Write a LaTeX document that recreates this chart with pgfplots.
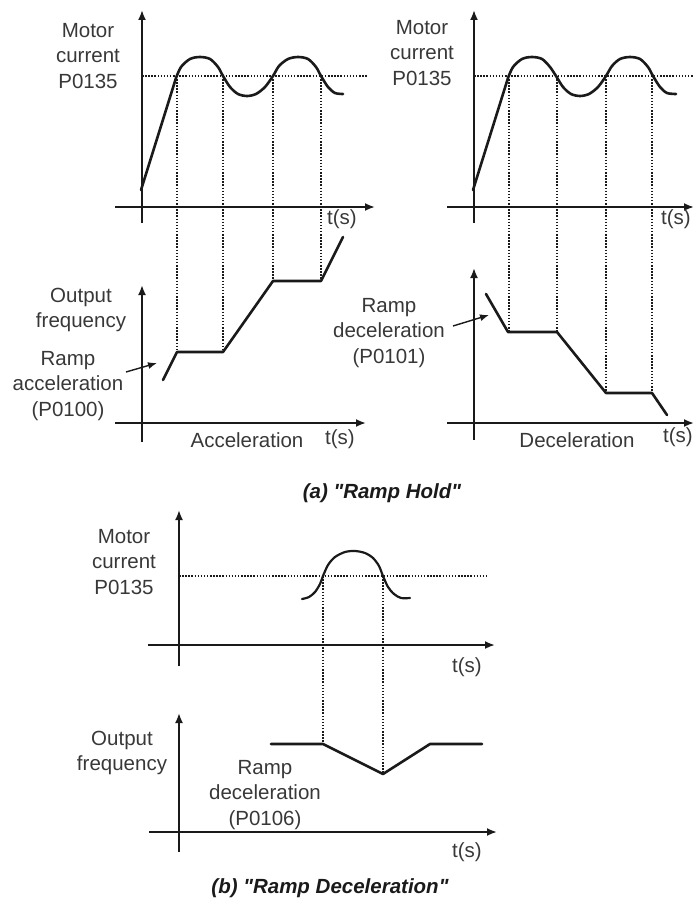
\documentclass[border=0pt]{standalone}
\usepackage{pgfplots}
\pgfplotsset{compat=1.18}
\usepackage{fontspec}
\setmainfont{Liberation Sans}
\usetikzlibrary{arrows.meta}
\definecolor{txt}{HTML}{383838}
\definecolor{ink}{HTML}{1A1A1A}
\tikzset{
  axline/.style={line width=1.9bp, -{Latex[length=10bp,width=8bp]}},
  noarrow/.style={line width=1.9bp},
  curve/.style={line width=2.6bp, line join=round, line cap=round},
  dots/.style={line width=1.6bp, dash pattern=on 1.5bp off 1.6bp},
  lbl/.style={text=txt, font=\fontsize{20.5bp}{25.5bp}\selectfont, align=center},
  ttl/.style={text=ink, font=\fontsize{20.5bp}{25bp}\selectfont\bfseries\itshape},
}
\begin{document}
\begin{tikzpicture}
\begin{axis}[
  width=694bp, height=901bp, scale only axis,
  xmin=0, xmax=694, ymin=0, ymax=901, y dir=reverse,
  hide axis, clip=false,
  every axis plot/.append style={ink},
]
% ---------- (a) top-left: motor current, acceleration
\addplot[axline] coordinates {(142,223) (142,10)};
\addplot[axline] coordinates {(115,207) (375,207)};
\addplot[dots] coordinates {(142,76) (367,76)};
\addplot[curve] coordinates {(141,190) (176,78)};
\addplot[curve, smooth] coordinates {
  (176,78) (181,67) (190,59) (200,57) (210,59) (218,67) (223,76) (230,87)
  (238,94) (247,96) (256,94) (265,87) (273,76) (279,66) (288,59) (298,57)
  (308,59) (316,67) (321,76) (328,87) (335,93) (343,94)};
% lower-left: output frequency
\addplot[axline] coordinates {(142,442) (142,285)};
\addplot[axline] coordinates {(115,423) (366,423)};
\addplot[curve] coordinates {(163,380) (177,352) (223,352) (273,281) (321,281) (343,237)};
\addplot[dots] coordinates {(177,76) (177,352)};
\addplot[dots] coordinates {(223,76) (223,352)};
\addplot[dots] coordinates {(273,76) (273,281)};
\addplot[dots] coordinates {(321,76) (321,281)};
\addplot[line width=1.4bp, -{Latex[length=9bp,width=7bp]}] coordinates {(126,372) (157,363)};

% ---------- top-right: motor current, deceleration
\addplot[axline] coordinates {(474,223) (474,10)};
\addplot[noarrow] coordinates {(447,207) (684,207)};
\addplot[axline] coordinates {(680,207) (694,207)};
\addplot[dots] coordinates {(474,76) (694,76)};
\addplot[curve] coordinates {(473,190) (508,78)};
\addplot[curve, smooth] coordinates {
  (508,78) (513,67) (522,59) (532,57) (542,59) (550,67) (556,76) (563,87)
  (571,94) (580,96) (589,94) (598,87) (606,76) (612,66) (620,59) (630,57)
  (640,59) (648,67) (653,76) (660,87) (667,93) (676,94)};
% lower-right: output frequency
\addplot[axline] coordinates {(474,440) (474,268)};
\addplot[noarrow] coordinates {(447,423) (684,423)};
\addplot[axline] coordinates {(680,423) (694,423)};
\addplot[curve] coordinates {(486,294) (508,332) (557,332) (606,393) (652,393) (667,415)};
\addplot[dots] coordinates {(509,76) (509,332)};
\addplot[dots] coordinates {(557,76) (557,332)};
\addplot[dots] coordinates {(606,76) (606,393)};
\addplot[dots] coordinates {(652,76) (652,393)};
\addplot[line width=1.4bp, -{Latex[length=9bp,width=7bp]}] coordinates {(453,326) (489,315)};

% ---------- (b) bottom: motor current
\addplot[axline] coordinates {(179,666) (179,510)};
\addplot[axline] coordinates {(148,645) (495,645)};
\addplot[dots] coordinates {(179,576) (487,576)};
\addplot[line width=2.2bp, smooth, line cap=round] coordinates {
  (302,599) (309,597) (315,592) (320,584) (323,576) (328,565) (335,557)
  (345,552) (355,551) (365,553) (373,558) (379,566) (383,576) (388,587)
  (394,594) (401,598) (410,598)};
% bottom: output frequency
\addplot[axline] coordinates {(179,852) (179,713)};
\addplot[axline] coordinates {(149,832) (497,832)};
\addplot[dots] coordinates {(323,576) (323,744)};
\addplot[dots] coordinates {(383,576) (383,773)};
\addplot[curve] coordinates {(271,744) (323,744) (383,774) (430,744) (482,744)};

% ---------- labels
\node[lbl] at (axis cs:88,56) {Motor\\current\\P0135};
\node[lbl] at (axis cs:422,53) {Motor\\current\\P0135};
\node[lbl] at (axis cs:342,219) {t(s)};
\node[lbl] at (axis cs:676,219) {t(s)};
\node[lbl] at (axis cs:81,310) {Output\\frequency};
\node[lbl] at (axis cs:68,386) {Ramp\\acceleration\\(P0100)};
\node[lbl] at (axis cs:389,333) {Ramp\\deceleration\\(P0101)};
\node[lbl] at (axis cs:247,440) {Acceleration};
\node[lbl] at (axis cs:340,439) {t(s)};
\node[lbl] at (axis cs:577,440) {Deceleration};
\node[lbl] at (axis cs:678,437) {t(s)};
\node[ttl] at (axis cs:382,493) {(a) \textquotedbl Ramp Hold\textquotedbl};
\node[lbl] at (axis cs:124,562) {Motor\\current\\P0135};
\node[lbl] at (axis cs:467,667) {t(s)};
\node[lbl] at (axis cs:122,753) {Output\\frequency};
\node[lbl] at (axis cs:265,795) {Ramp\\deceleration\\(P0106)};
\node[lbl] at (axis cs:467,852) {t(s)};
\node[ttl] at (axis cs:330,888) {(b) \textquotedbl Ramp Deceleration\textquotedbl};
\end{axis}
\pgfresetboundingbox
\path (current axis.south west) rectangle (current axis.north east);
\end{tikzpicture}
\end{document}
